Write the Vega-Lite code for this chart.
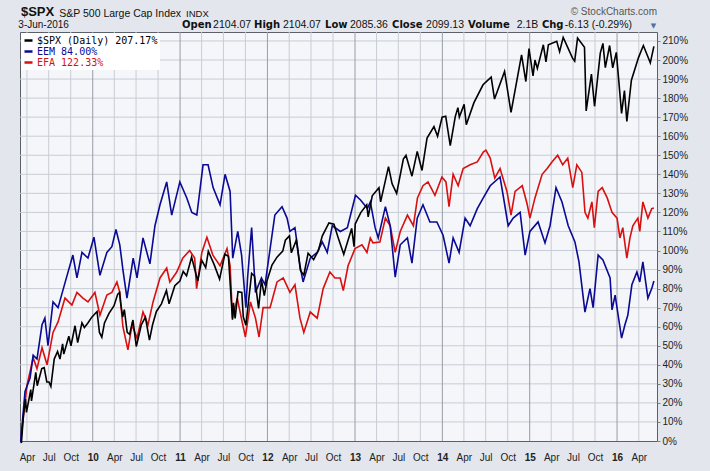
{
"$schema": "https://vega.github.io/schema/vega-lite/v6.json",
"width": 637, "height": 409,
"autosize": {"type": "none"},
"padding": {"left": 20, "top": 32, "right": 53, "bottom": 30},
"background": "#e3e7ed",
"config": {"view": {"fill": "#f5f6fa", "stroke": "#5a5f68", "strokeWidth": 1}, "font": "Liberation Sans"},
"resolve": {"axis": {"x": "independent", "y": "independent"}},
"datasets": {"perf": [
{"d":"2009-03-06","s":"SPX","v":0},{"d":"2009-03-09","s":"SPX","v":-1},{"d":"2009-03-17","s":"SPX","v":13},{"d":"2009-03-26","s":"SPX","v":22},{"d":"2009-03-30","s":"SPX","v":15},{"d":"2009-04-17","s":"SPX","v":27},{"d":"2009-04-20","s":"SPX","v":21},{"d":"2009-05-08","s":"SPX","v":36},{"d":"2009-05-14","s":"SPX","v":29},{"d":"2009-06-02","s":"SPX","v":38},{"d":"2009-06-12","s":"SPX","v":38.5},{"d":"2009-06-23","s":"SPX","v":31},{"d":"2009-07-02","s":"SPX","v":31},{"d":"2009-07-10","s":"SPX","v":28.6},{"d":"2009-07-24","s":"SPX","v":43},{"d":"2009-08-07","s":"SPX","v":47},{"d":"2009-08-17","s":"SPX","v":43},{"d":"2009-08-28","s":"SPX","v":51},{"d":"2009-09-02","s":"SPX","v":45.6},{"d":"2009-09-23","s":"SPX","v":55},{"d":"2009-10-02","s":"SPX","v":50},{"d":"2009-10-19","s":"SPX","v":60.5},{"d":"2009-10-30","s":"SPX","v":51.6},{"d":"2009-11-17","s":"SPX","v":62},{"d":"2009-11-27","s":"SPX","v":59.6},{"d":"2009-12-11","s":"SPX","v":61.8},{"d":"2009-12-28","s":"SPX","v":65},{"d":"2010-01-19","s":"SPX","v":68},{"d":"2010-01-29","s":"SPX","v":57},{"d":"2010-02-08","s":"SPX","v":54.5},{"d":"2010-02-19","s":"SPX","v":62},{"d":"2010-03-10","s":"SPX","v":67},{"d":"2010-03-31","s":"SPX","v":71},{"d":"2010-04-15","s":"SPX","v":77},{"d":"2010-04-23","s":"SPX","v":78},{"d":"2010-04-27","s":"SPX","v":73},{"d":"2010-05-06","s":"SPX","v":65},{"d":"2010-05-13","s":"SPX","v":69},{"d":"2010-05-25","s":"SPX","v":57},{"d":"2010-06-04","s":"SPX","v":56},{"d":"2010-06-18","s":"SPX","v":63.5},{"d":"2010-07-02","s":"SPX","v":49.6},{"d":"2010-07-23","s":"SPX","v":61},{"d":"2010-08-09","s":"SPX","v":65},{"d":"2010-08-26","s":"SPX","v":53},{"d":"2010-09-08","s":"SPX","v":61},{"d":"2010-09-24","s":"SPX","v":68},{"d":"2010-10-15","s":"SPX","v":72},{"d":"2010-11-05","s":"SPX","v":79},{"d":"2010-11-16","s":"SPX","v":72},{"d":"2010-12-10","s":"SPX","v":81.5},{"d":"2010-12-31","s":"SPX","v":84},{"d":"2011-01-14","s":"SPX","v":89},{"d":"2011-01-28","s":"SPX","v":86.7},{"d":"2011-02-18","s":"SPX","v":96.5},{"d":"2011-03-16","s":"SPX","v":84},{"d":"2011-04-01","s":"SPX","v":95},{"d":"2011-04-18","s":"SPX","v":91},{"d":"2011-04-29","s":"SPX","v":99.6},{"d":"2011-05-23","s":"SPX","v":92.7},{"d":"2011-06-15","s":"SPX","v":85},{"d":"2011-07-07","s":"SPX","v":98},{"d":"2011-07-22","s":"SPX","v":97},{"d":"2011-08-08","s":"SPX","v":63.7},{"d":"2011-08-12","s":"SPX","v":72.5},{"d":"2011-08-19","s":"SPX","v":64.3},{"d":"2011-08-31","s":"SPX","v":78.4},{"d":"2011-09-16","s":"SPX","v":78},{"d":"2011-09-22","s":"SPX","v":65.2},{"d":"2011-10-03","s":"SPX","v":60.8},{"d":"2011-10-27","s":"SPX","v":88},{"d":"2011-11-08","s":"SPX","v":86.6},{"d":"2011-11-25","s":"SPX","v":69.6},{"d":"2011-12-07","s":"SPX","v":84.5},{"d":"2011-12-19","s":"SPX","v":76.3},{"d":"2011-12-30","s":"SPX","v":84},{"d":"2012-01-20","s":"SPX","v":92.4},{"d":"2012-02-10","s":"SPX","v":96.5},{"d":"2012-03-05","s":"SPX","v":99.7},{"d":"2012-03-16","s":"SPX","v":105.4},{"d":"2012-04-02","s":"SPX","v":107.7},{"d":"2012-04-10","s":"SPX","v":98.8},{"d":"2012-05-01","s":"SPX","v":105.5},{"d":"2012-05-18","s":"SPX","v":89.5},{"d":"2012-06-01","s":"SPX","v":87},{"d":"2012-06-19","s":"SPX","v":98.6},{"d":"2012-07-12","s":"SPX","v":95.2},{"d":"2012-08-01","s":"SPX","v":100},{"d":"2012-08-17","s":"SPX","v":107.6},{"d":"2012-09-14","s":"SPX","v":114.5},{"d":"2012-10-05","s":"SPX","v":113.8},{"d":"2012-10-23","s":"SPX","v":106.5},{"d":"2012-11-15","s":"SPX","v":98},{"d":"2012-12-18","s":"SPX","v":111.6},{"d":"2012-12-28","s":"SPX","v":102},{"d":"2013-01-02","s":"SPX","v":113.9},{"d":"2013-01-25","s":"SPX","v":119.9},{"d":"2013-02-19","s":"SPX","v":124},{"d":"2013-02-25","s":"SPX","v":117.7},{"d":"2013-03-14","s":"SPX","v":128.7},{"d":"2013-04-11","s":"SPX","v":133},{"d":"2013-04-18","s":"SPX","v":125.5},{"d":"2013-05-21","s":"SPX","v":144},{"d":"2013-06-05","s":"SPX","v":135},{"d":"2013-06-24","s":"SPX","v":130},{"d":"2013-07-22","s":"SPX","v":148},{"d":"2013-08-02","s":"SPX","v":150},{"d":"2013-08-27","s":"SPX","v":139},{"d":"2013-09-18","s":"SPX","v":152},{"d":"2013-10-08","s":"SPX","v":142},{"d":"2013-10-29","s":"SPX","v":159},{"d":"2013-11-27","s":"SPX","v":165},{"d":"2013-12-12","s":"SPX","v":160},{"d":"2013-12-31","s":"SPX","v":170},{"d":"2014-01-15","s":"SPX","v":170.5},{"d":"2014-02-03","s":"SPX","v":155},{"d":"2014-02-24","s":"SPX","v":170.3},{"d":"2014-03-07","s":"SPX","v":175},{"d":"2014-03-13","s":"SPX","v":170},{"d":"2014-04-02","s":"SPX","v":176.7},{"d":"2014-04-11","s":"SPX","v":166},{"d":"2014-05-13","s":"SPX","v":177.6},{"d":"2014-06-20","s":"SPX","v":187},{"d":"2014-07-24","s":"SPX","v":191},{"d":"2014-08-07","s":"SPX","v":179.5},{"d":"2014-09-18","s":"SPX","v":194},{"d":"2014-10-15","s":"SPX","v":172.5},{"d":"2014-11-28","s":"SPX","v":202.7},{"d":"2014-12-16","s":"SPX","v":188.7},{"d":"2014-12-29","s":"SPX","v":206},{"d":"2015-01-15","s":"SPX","v":191.6},{"d":"2015-01-23","s":"SPX","v":200},{"d":"2015-02-02","s":"SPX","v":195.6},{"d":"2015-02-27","s":"SPX","v":208},{"d":"2015-03-10","s":"SPX","v":199},{"d":"2015-03-20","s":"SPX","v":208},{"d":"2015-04-24","s":"SPX","v":209.8},{"d":"2015-05-06","s":"SPX","v":204.4},{"d":"2015-05-21","s":"SPX","v":211.9},{"d":"2015-06-29","s":"SPX","v":201},{"d":"2015-07-08","s":"SPX","v":199.4},{"d":"2015-07-20","s":"SPX","v":211.5},{"d":"2015-08-18","s":"SPX","v":206.7},{"d":"2015-08-25","s":"SPX","v":173.3},{"d":"2015-09-16","s":"SPX","v":192.6},{"d":"2015-09-29","s":"SPX","v":175.7},{"d":"2015-10-23","s":"SPX","v":203.6},{"d":"2015-11-03","s":"SPX","v":208.7},{"d":"2015-11-13","s":"SPX","v":196},{"d":"2015-12-01","s":"SPX","v":207.6},{"d":"2015-12-14","s":"SPX","v":195.9},{"d":"2015-12-29","s":"SPX","v":204},{"d":"2016-01-20","s":"SPX","v":172},{"d":"2016-02-01","s":"SPX","v":184},{"d":"2016-02-11","s":"SPX","v":167.7},{"d":"2016-03-01","s":"SPX","v":189.4},{"d":"2016-03-31","s":"SPX","v":201.4},{"d":"2016-04-20","s":"SPX","v":207.6},{"d":"2016-05-19","s":"SPX","v":198.5},{"d":"2016-06-03","s":"SPX","v":207.17},
{"d":"2009-03-06","s":"EEM","v":0},{"d":"2009-03-24","s":"EEM","v":26},{"d":"2009-04-14","s":"EEM","v":33},{"d":"2009-04-27","s":"EEM","v":45},{"d":"2009-05-13","s":"EEM","v":43},{"d":"2009-06-03","s":"EEM","v":61},{"d":"2009-06-15","s":"EEM","v":64.5},{"d":"2009-06-28","s":"EEM","v":50},{"d":"2009-07-19","s":"EEM","v":73},{"d":"2009-08-09","s":"EEM","v":70},{"d":"2009-09-07","s":"EEM","v":83},{"d":"2009-10-10","s":"EEM","v":97.6},{"d":"2009-10-27","s":"EEM","v":85.6},{"d":"2009-11-17","s":"EEM","v":99},{"d":"2009-12-12","s":"EEM","v":96},{"d":"2010-01-06","s":"EEM","v":107},{"d":"2010-01-31","s":"EEM","v":87},{"d":"2010-03-01","s":"EEM","v":99},{"d":"2010-03-22","s":"EEM","v":102},{"d":"2010-04-08","s":"EEM","v":111},{"d":"2010-04-24","s":"EEM","v":103},{"d":"2010-05-07","s":"EEM","v":90},{"d":"2010-05-24","s":"EEM","v":75},{"d":"2010-06-19","s":"EEM","v":96},{"d":"2010-07-05","s":"EEM","v":85.6},{"d":"2010-07-30","s":"EEM","v":106.6},{"d":"2010-08-28","s":"EEM","v":93},{"d":"2010-09-18","s":"EEM","v":113},{"d":"2010-10-09","s":"EEM","v":124},{"d":"2010-11-06","s":"EEM","v":136},{"d":"2010-11-27","s":"EEM","v":118.6},{"d":"2010-12-31","s":"EEM","v":136},{"d":"2011-01-29","s":"EEM","v":127.6},{"d":"2011-02-19","s":"EEM","v":120},{"d":"2011-03-12","s":"EEM","v":118.6},{"d":"2011-04-07","s":"EEM","v":145},{"d":"2011-04-28","s":"EEM","v":145},{"d":"2011-05-19","s":"EEM","v":133},{"d":"2011-06-17","s":"EEM","v":124},{"d":"2011-07-08","s":"EEM","v":140},{"d":"2011-07-29","s":"EEM","v":131},{"d":"2011-08-09","s":"EEM","v":96},{"d":"2011-08-30","s":"EEM","v":110},{"d":"2011-09-15","s":"EEM","v":97.6},{"d":"2011-10-03","s":"EEM","v":70},{"d":"2011-10-10","s":"EEM","v":85.6},{"d":"2011-10-27","s":"EEM","v":112},{"d":"2011-11-12","s":"EEM","v":78},{"d":"2011-12-07","s":"EEM","v":85.6},{"d":"2011-12-22","s":"EEM","v":82},{"d":"2012-02-01","s":"EEM","v":118.6},{"d":"2012-03-02","s":"EEM","v":123},{"d":"2012-03-23","s":"EEM","v":117},{"d":"2012-04-04","s":"EEM","v":110},{"d":"2012-04-25","s":"EEM","v":112},{"d":"2012-05-16","s":"EEM","v":92},{"d":"2012-05-29","s":"EEM","v":83.5},{"d":"2012-06-28","s":"EEM","v":96},{"d":"2012-07-27","s":"EEM","v":99},{"d":"2012-08-17","s":"EEM","v":104.5},{"d":"2012-09-07","s":"EEM","v":99},{"d":"2012-09-28","s":"EEM","v":113},{"d":"2012-11-01","s":"EEM","v":110},{"d":"2012-11-30","s":"EEM","v":112},{"d":"2013-01-03","s":"EEM","v":129},{"d":"2013-01-24","s":"EEM","v":126.5},{"d":"2013-02-22","s":"EEM","v":122},{"d":"2013-03-06","s":"EEM","v":125.5},{"d":"2013-03-26","s":"EEM","v":112},{"d":"2013-04-08","s":"EEM","v":106.6},{"d":"2013-05-08","s":"EEM","v":123},{"d":"2013-05-28","s":"EEM","v":113},{"d":"2013-06-18","s":"EEM","v":86},{"d":"2013-07-09","s":"EEM","v":103},{"d":"2013-08-08","s":"EEM","v":106.6},{"d":"2013-08-27","s":"EEM","v":93.4},{"d":"2013-09-18","s":"EEM","v":117},{"d":"2013-10-12","s":"EEM","v":124},{"d":"2013-11-10","s":"EEM","v":115},{"d":"2013-12-09","s":"EEM","v":115},{"d":"2014-01-04","s":"EEM","v":108},{"d":"2014-01-29","s":"EEM","v":93.4},{"d":"2014-02-15","s":"EEM","v":106.6},{"d":"2014-03-12","s":"EEM","v":99},{"d":"2014-04-06","s":"EEM","v":117},{"d":"2014-04-27","s":"EEM","v":113},{"d":"2014-05-27","s":"EEM","v":122},{"d":"2014-06-21","s":"EEM","v":127.6},{"d":"2014-07-20","s":"EEM","v":134},{"d":"2014-08-30","s":"EEM","v":138.6},{"d":"2014-09-12","s":"EEM","v":129},{"d":"2014-10-03","s":"EEM","v":113},{"d":"2014-10-24","s":"EEM","v":117},{"d":"2014-11-22","s":"EEM","v":120},{"d":"2014-12-13","s":"EEM","v":97.6},{"d":"2015-01-02","s":"EEM","v":110},{"d":"2015-02-05","s":"EEM","v":115},{"d":"2015-03-06","s":"EEM","v":104},{"d":"2015-03-27","s":"EEM","v":113},{"d":"2015-04-21","s":"EEM","v":133},{"d":"2015-05-16","s":"EEM","v":125.5},{"d":"2015-06-11","s":"EEM","v":113},{"d":"2015-07-09","s":"EEM","v":104.5},{"d":"2015-07-26","s":"EEM","v":94},{"d":"2015-08-20","s":"EEM","v":67.7},{"d":"2015-09-10","s":"EEM","v":80},{"d":"2015-09-23","s":"EEM","v":70},{"d":"2015-10-14","s":"EEM","v":97.6},{"d":"2015-11-03","s":"EEM","v":95},{"d":"2015-12-03","s":"EEM","v":85.6},{"d":"2015-12-11","s":"EEM","v":68.8},{"d":"2015-12-24","s":"EEM","v":76.6},{"d":"2016-01-20","s":"EEM","v":54},{"d":"2016-02-03","s":"EEM","v":61},{"d":"2016-02-15","s":"EEM","v":66},{"d":"2016-03-03","s":"EEM","v":82},{"d":"2016-03-24","s":"EEM","v":88.7},{"d":"2016-04-05","s":"EEM","v":83.5},{"d":"2016-04-18","s":"EEM","v":94},{"d":"2016-05-09","s":"EEM","v":75},{"d":"2016-05-25","s":"EEM","v":80},{"d":"2016-06-03","s":"EEM","v":84},
{"d":"2009-03-06","s":"EFA","v":0},{"d":"2009-04-01","s":"EFA","v":29},{"d":"2009-04-27","s":"EFA","v":43.6},{"d":"2009-05-13","s":"EFA","v":38},{"d":"2009-06-03","s":"EFA","v":49},{"d":"2009-06-24","s":"EFA","v":40},{"d":"2009-07-19","s":"EFA","v":57},{"d":"2009-08-09","s":"EFA","v":62.5},{"d":"2009-09-07","s":"EFA","v":75},{"d":"2009-10-06","s":"EFA","v":71.4},{"d":"2009-10-27","s":"EFA","v":78},{"d":"2009-11-21","s":"EFA","v":75},{"d":"2009-12-12","s":"EFA","v":73},{"d":"2010-01-10","s":"EFA","v":78},{"d":"2010-01-31","s":"EFA","v":66},{"d":"2010-03-01","s":"EFA","v":76.6},{"d":"2010-03-22","s":"EFA","v":78},{"d":"2010-04-12","s":"EFA","v":83.5},{"d":"2010-04-24","s":"EFA","v":78},{"d":"2010-05-07","s":"EFA","v":60},{"d":"2010-05-28","s":"EFA","v":47.8},{"d":"2010-06-14","s":"EFA","v":61},{"d":"2010-07-05","s":"EFA","v":54},{"d":"2010-07-30","s":"EFA","v":67.7},{"d":"2010-08-20","s":"EFA","v":61},{"d":"2010-09-10","s":"EFA","v":73},{"d":"2010-10-09","s":"EFA","v":85.6},{"d":"2010-11-06","s":"EFA","v":90.8},{"d":"2010-11-19","s":"EFA","v":83.5},{"d":"2010-12-18","s":"EFA","v":88.7},{"d":"2011-01-12","s":"EFA","v":96},{"d":"2011-02-10","s":"EFA","v":100},{"d":"2011-03-03","s":"EFA","v":96},{"d":"2011-03-11","s":"EFA","v":80},{"d":"2011-04-02","s":"EFA","v":99},{"d":"2011-04-23","s":"EFA","v":107},{"d":"2011-05-18","s":"EFA","v":97.6},{"d":"2011-06-17","s":"EFA","v":92},{"d":"2011-07-16","s":"EFA","v":101},{"d":"2011-07-29","s":"EFA","v":92},{"d":"2011-08-08","s":"EFA","v":64.5},{"d":"2011-08-28","s":"EFA","v":75},{"d":"2011-09-14","s":"EFA","v":64.5},{"d":"2011-10-01","s":"EFA","v":54.6},{"d":"2011-10-22","s":"EFA","v":73},{"d":"2011-11-12","s":"EFA","v":64.5},{"d":"2011-11-27","s":"EFA","v":54.6},{"d":"2011-12-14","s":"EFA","v":70},{"d":"2012-01-12","s":"EFA","v":70},{"d":"2012-02-10","s":"EFA","v":83.5},{"d":"2012-03-07","s":"EFA","v":85.6},{"d":"2012-04-04","s":"EFA","v":78},{"d":"2012-04-25","s":"EFA","v":82},{"d":"2012-05-16","s":"EFA","v":64.5},{"d":"2012-06-01","s":"EFA","v":57},{"d":"2012-06-28","s":"EFA","v":67.7},{"d":"2012-07-27","s":"EFA","v":64.5},{"d":"2012-08-21","s":"EFA","v":80},{"d":"2012-09-18","s":"EFA","v":88.7},{"d":"2012-10-09","s":"EFA","v":85.6},{"d":"2012-10-31","s":"EFA","v":85.6},{"d":"2012-11-13","s":"EFA","v":79},{"d":"2012-12-03","s":"EFA","v":92},{"d":"2013-01-01","s":"EFA","v":101},{"d":"2013-01-30","s":"EFA","v":103},{"d":"2013-02-20","s":"EFA","v":99},{"d":"2013-03-06","s":"EFA","v":106.6},{"d":"2013-03-17","s":"EFA","v":104},{"d":"2013-04-15","s":"EFA","v":104.5},{"d":"2013-05-08","s":"EFA","v":117},{"d":"2013-05-28","s":"EFA","v":113},{"d":"2013-06-18","s":"EFA","v":99},{"d":"2013-07-09","s":"EFA","v":110},{"d":"2013-08-08","s":"EFA","v":118.6},{"d":"2013-09-02","s":"EFA","v":113},{"d":"2013-09-19","s":"EFA","v":127.6},{"d":"2013-10-12","s":"EFA","v":134},{"d":"2013-11-02","s":"EFA","v":136},{"d":"2013-12-01","s":"EFA","v":129},{"d":"2013-12-30","s":"EFA","v":138.6},{"d":"2014-01-16","s":"EFA","v":136},{"d":"2014-01-29","s":"EFA","v":123},{"d":"2014-02-15","s":"EFA","v":140},{"d":"2014-03-08","s":"EFA","v":134},{"d":"2014-03-29","s":"EFA","v":143},{"d":"2014-04-27","s":"EFA","v":145},{"d":"2014-05-27","s":"EFA","v":146.5},{"d":"2014-06-21","s":"EFA","v":151.7},{"d":"2014-07-02","s":"EFA","v":152.7},{"d":"2014-07-20","s":"EFA","v":148.5},{"d":"2014-08-08","s":"EFA","v":138},{"d":"2014-08-30","s":"EFA","v":143},{"d":"2014-09-28","s":"EFA","v":131},{"d":"2014-10-15","s":"EFA","v":118.6},{"d":"2014-11-01","s":"EFA","v":131},{"d":"2014-12-01","s":"EFA","v":134},{"d":"2014-12-22","s":"EFA","v":124},{"d":"2015-01-02","s":"EFA","v":117},{"d":"2015-01-23","s":"EFA","v":127.6},{"d":"2015-02-22","s":"EFA","v":140},{"d":"2015-03-15","s":"EFA","v":143},{"d":"2015-04-04","s":"EFA","v":146.5},{"d":"2015-04-28","s":"EFA","v":150},{"d":"2015-05-19","s":"EFA","v":145},{"d":"2015-06-09","s":"EFA","v":148.5},{"d":"2015-06-30","s":"EFA","v":133},{"d":"2015-07-17","s":"EFA","v":145},{"d":"2015-08-07","s":"EFA","v":141},{"d":"2015-08-20","s":"EFA","v":120},{"d":"2015-09-01","s":"EFA","v":117},{"d":"2015-09-18","s":"EFA","v":125.5},{"d":"2015-09-28","s":"EFA","v":112},{"d":"2015-10-14","s":"EFA","v":131},{"d":"2015-10-31","s":"EFA","v":133},{"d":"2015-11-21","s":"EFA","v":127.6},{"d":"2015-12-11","s":"EFA","v":120},{"d":"2016-01-01","s":"EFA","v":117},{"d":"2016-01-13","s":"EFA","v":106.6},{"d":"2016-01-25","s":"EFA","v":112},{"d":"2016-02-11","s":"EFA","v":96},{"d":"2016-02-24","s":"EFA","v":106.6},{"d":"2016-03-07","s":"EFA","v":113},{"d":"2016-03-28","s":"EFA","v":117},{"d":"2016-04-05","s":"EFA","v":110},{"d":"2016-04-18","s":"EFA","v":125.5},{"d":"2016-05-09","s":"EFA","v":117},{"d":"2016-05-25","s":"EFA","v":122},{"d":"2016-06-03","s":"EFA","v":122.33}
],
"hgrid": [{"g":10},{"g":20},{"g":30},{"g":40},{"g":50},{"g":60},{"g":70},{"g":80},{"g":90},{"g":100},{"g":110},{"g":120},{"g":130},{"g":140},{"g":150},{"g":160},{"g":170},{"g":180},{"g":190},{"g":200},{"g":210}],
"qgrid": [{"q":"2009-04-01"},{"q":"2009-07-01"},{"q":"2009-10-01"},{"q":"2010-04-01"},{"q":"2010-07-01"},{"q":"2010-10-01"},{"q":"2011-04-01"},{"q":"2011-07-01"},{"q":"2011-10-01"},{"q":"2012-04-01"},{"q":"2012-07-01"},{"q":"2012-10-01"},{"q":"2013-04-01"},{"q":"2013-07-01"},{"q":"2013-10-01"},{"q":"2014-04-01"},{"q":"2014-07-01"},{"q":"2014-10-01"},{"q":"2015-04-01"},{"q":"2015-07-01"},{"q":"2015-10-01"},{"q":"2016-04-01"}],
"ygrid": [{"q":"2010-01-01"},{"q":"2011-01-01"},{"q":"2012-01-01"},{"q":"2013-01-01"},{"q":"2014-01-01"},{"q":"2015-01-01"},{"q":"2016-01-01"}]
},
"layer": [
{"data": {"name": "hgrid"}, "mark": {"type": "rule", "color": "#c8ccd4", "strokeWidth": 1},
 "encoding": {"y": {"field": "g", "type": "quantitative", "axis": null}}},
{"data": {"name": "qgrid"}, "mark": {"type": "rule", "color": "#c8ccd4", "strokeWidth": 1},
 "encoding": {"x": {"field": "q", "type": "temporal", "axis": null}}},
{"data": {"name": "ygrid"}, "mark": {"type": "rule", "color": "#979ca6", "strokeWidth": 1},
 "encoding": {"x": {"field": "q", "type": "temporal", "axis": null}}},
{
"data": {"name": "perf"},
"encoding": {
"x": {"field": "d", "type": "temporal", "title": null,
 "scale": {"domain": [{"year": 2009, "month": 3, "date": 3}, {"year": 2016, "month": 6, "date": 16}]},
 "axis": {"title": null, "grid": false, "domain": false, "ticks": false, "labelPadding": 11, "labelFont": "Liberation Sans", "labelFontSize": 10, "labelColor": "#222222", "labelOverlap": false, "labelFlush": false,
  "values": [{"year":2009,"month":4,"date":1},{"year":2009,"month":7,"date":1},{"year":2009,"month":10,"date":1},{"year":2010,"month":1,"date":1},{"year":2010,"month":4,"date":1},{"year":2010,"month":7,"date":1},{"year":2010,"month":10,"date":1},{"year":2011,"month":1,"date":1},{"year":2011,"month":4,"date":1},{"year":2011,"month":7,"date":1},{"year":2011,"month":10,"date":1},{"year":2012,"month":1,"date":1},{"year":2012,"month":4,"date":1},{"year":2012,"month":7,"date":1},{"year":2012,"month":10,"date":1},{"year":2013,"month":1,"date":1},{"year":2013,"month":4,"date":1},{"year":2013,"month":7,"date":1},{"year":2013,"month":10,"date":1},{"year":2014,"month":1,"date":1},{"year":2014,"month":4,"date":1},{"year":2014,"month":7,"date":1},{"year":2014,"month":10,"date":1},{"year":2015,"month":1,"date":1},{"year":2015,"month":4,"date":1},{"year":2015,"month":7,"date":1},{"year":2015,"month":10,"date":1},{"year":2016,"month":1,"date":1},{"year":2016,"month":4,"date":1}],
  "labelExpr": "month(datum.value) == 0 ? timeFormat(datum.value, '%y') : timeFormat(datum.value, '%b')",
  "labelFontWeight": {"condition": {"test": "month(datum.value) == 0", "value": "bold"}, "value": "normal"}}},
"y": {"field": "v", "type": "quantitative", "title": null,
 "scale": {"domain": [0, 214.7], "nice": false, "zero": false},
 "axis": {"title": null, "orient": "right", "values": [0,10,20,30,40,50,60,70,80,90,100,110,120,130,140,150,160,170,180,190,200,210], "labelExpr": "datum.value + '%'", "labelOverlap": false, "grid": false, "domain": false, "tickSize": 3, "tickColor": "#7a7f88", "labelPadding": 2, "labelFont": "Liberation Sans", "labelFontSize": 10, "labelColor": "#222222"}},
"color": {"field": "s", "type": "nominal",
 "scale": {"domain": ["SPX", "EEM", "EFA"], "range": ["#000000", "#0a0a94", "#d81010"]},
 "legend": {"title": null, "orient": "top-left", "offset": 1, "fillColor": "#ffffff", "padding": 2, "symbolType": "stroke", "symbolSize": 64, "symbolStrokeWidth": 2.5, "labelFont": "DejaVu Sans Mono", "labelFontSize": 10, "rowPadding": -2, "labelOffset": 3,
  "labelExpr": "datum.label == 'SPX' ? '$SPX (Daily) 207.17%\u00a0\u00a0\u00a0\u00a0' : datum.label == 'EEM' ? 'EEM 84.00%' : 'EFA 122.33%'",
  "encode": {"labels": {"update": {"fill": {"scale": "color", "field": "value"}}}}}}
},
"layer": [
{"transform": [{"filter": "datum.s == 'EFA'"}], "mark": {"type": "line", "strokeWidth": 1.6}},
{"transform": [{"filter": "datum.s == 'EEM'"}], "mark": {"type": "line", "strokeWidth": 1.6}},
{"transform": [{"filter": "datum.s == 'SPX'"}], "mark": {"type": "line", "strokeWidth": 1.6}}
]
},
{"data": {"values": [{}]}, "mark": {"type": "text", "text": "$SPX", "align": "left", "baseline": "alphabetic", "font": "Liberation Sans", "fontWeight": "bold", "fontSize": 13, "color": "#111111"},
 "encoding": {"x": {"datum": {"year": 2009, "month": 3, "date": 7}, "type": "temporal", "axis": null}, "y": {"datum": 223.0, "type": "quantitative", "axis": null}}},
{"data": {"values": [{}]}, "mark": {"type": "text", "text": "S&P 500 Large Cap Index", "align": "left", "baseline": "alphabetic", "font": "Liberation Sans", "fontSize": 10.5, "color": "#111111"},
 "encoding": {"x": {"datum": {"year": 2009, "month": 8, "date": 14}, "type": "temporal", "axis": null}, "y": {"datum": 222.6, "type": "quantitative", "axis": null}}},
{"data": {"values": [{}]}, "mark": {"type": "text", "text": "INDX", "align": "left", "baseline": "alphabetic", "font": "Liberation Sans", "fontSize": 9.5, "color": "#111111"},
 "encoding": {"x": {"datum": {"year": 2011, "month": 1, "date": 26}, "type": "temporal", "axis": null}, "y": {"datum": 222.6, "type": "quantitative", "axis": null}}},
{"data": {"values": [{}]}, "mark": {"type": "text", "text": "3-Jun-2016", "align": "left", "baseline": "alphabetic", "font": "Liberation Sans", "fontSize": 10, "color": "#111111"},
 "encoding": {"x": {"datum": {"year": 2009, "month": 2, "date": 24}, "type": "temporal", "axis": null}, "y": {"datum": 216.6, "type": "quantitative", "axis": null}}},
{"data": {"values": [{}]}, "mark": {"type": "text", "text": "Open", "align": "left", "baseline": "alphabetic", "font": "DejaVu Sans", "fontWeight": "bold", "fontSize": 10, "color": "#111111"},
 "encoding": {"x": {"datum": {"year": 2011, "month": 1, "date": 9}, "type": "temporal", "axis": null}, "y": {"datum": 216.6, "type": "quantitative", "axis": null}}},
{"data": {"values": [{}]}, "mark": {"type": "text", "text": "2104.07", "align": "left", "baseline": "alphabetic", "font": "Liberation Sans", "fontSize": 10.5, "color": "#111111"},
 "encoding": {"x": {"datum": {"year": 2011, "month": 5, "date": 19}, "type": "temporal", "axis": null}, "y": {"datum": 216.6, "type": "quantitative", "axis": null}}},
{"data": {"values": [{}]}, "mark": {"type": "text", "text": "High", "align": "left", "baseline": "alphabetic", "font": "DejaVu Sans", "fontWeight": "bold", "fontSize": 10, "color": "#111111"},
 "encoding": {"x": {"datum": {"year": 2011, "month": 11, "date": 6}, "type": "temporal", "axis": null}, "y": {"datum": 216.6, "type": "quantitative", "axis": null}}},
{"data": {"values": [{}]}, "mark": {"type": "text", "text": "2104.07", "align": "left", "baseline": "alphabetic", "font": "Liberation Sans", "fontSize": 10.5, "color": "#111111"},
 "encoding": {"x": {"datum": {"year": 2012, "month": 3, "date": 6}, "type": "temporal", "axis": null}, "y": {"datum": 216.6, "type": "quantitative", "axis": null}}},
{"data": {"values": [{}]}, "mark": {"type": "text", "text": "Low", "align": "left", "baseline": "alphabetic", "font": "DejaVu Sans", "fontWeight": "bold", "fontSize": 10, "color": "#111111"},
 "encoding": {"x": {"datum": {"year": 2012, "month": 8, "date": 29}, "type": "temporal", "axis": null}, "y": {"datum": 216.6, "type": "quantitative", "axis": null}}},
{"data": {"values": [{}]}, "mark": {"type": "text", "text": "2085.36", "align": "left", "baseline": "alphabetic", "font": "Liberation Sans", "fontSize": 10.5, "color": "#111111"},
 "encoding": {"x": {"datum": {"year": 2012, "month": 12, "date": 11}, "type": "temporal", "axis": null}, "y": {"datum": 216.6, "type": "quantitative", "axis": null}}},
{"data": {"values": [{}]}, "mark": {"type": "text", "text": "Close", "align": "left", "baseline": "alphabetic", "font": "DejaVu Sans", "fontWeight": "bold", "fontSize": 10, "color": "#111111"},
 "encoding": {"x": {"datum": {"year": 2013, "month": 6, "date": 5}, "type": "temporal", "axis": null}, "y": {"datum": 216.6, "type": "quantitative", "axis": null}}},
{"data": {"values": [{}]}, "mark": {"type": "text", "text": "2099.13", "align": "left", "baseline": "alphabetic", "font": "Liberation Sans", "fontSize": 10.5, "color": "#111111"},
 "encoding": {"x": {"datum": {"year": 2013, "month": 10, "date": 25}, "type": "temporal", "axis": null}, "y": {"datum": 216.6, "type": "quantitative", "axis": null}}},
{"data": {"values": [{}]}, "mark": {"type": "text", "text": "Volume", "align": "left", "baseline": "alphabetic", "font": "DejaVu Sans", "fontWeight": "bold", "fontSize": 10, "color": "#111111"},
 "encoding": {"x": {"datum": {"year": 2014, "month": 4, "date": 18}, "type": "temporal", "axis": null}, "y": {"datum": 216.6, "type": "quantitative", "axis": null}}},
{"data": {"values": [{}]}, "mark": {"type": "text", "text": "2.1B", "align": "left", "baseline": "alphabetic", "font": "Liberation Sans", "fontSize": 10.5, "color": "#111111"},
 "encoding": {"x": {"datum": {"year": 2014, "month": 11, "date": 8}, "type": "temporal", "axis": null}, "y": {"datum": 216.6, "type": "quantitative", "axis": null}}},
{"data": {"values": [{}]}, "mark": {"type": "text", "text": "Chg", "align": "left", "baseline": "alphabetic", "font": "DejaVu Sans", "fontWeight": "bold", "fontSize": 10, "color": "#111111"},
 "encoding": {"x": {"datum": {"year": 2015, "month": 2, "date": 21}, "type": "temporal", "axis": null}, "y": {"datum": 216.6, "type": "quantitative", "axis": null}}},
{"data": {"values": [{}]}, "mark": {"type": "text", "text": "-6.13 (-0.29%)", "align": "left", "baseline": "alphabetic", "font": "Liberation Sans", "fontSize": 10.5, "color": "#111111"},
 "encoding": {"x": {"datum": {"year": 2015, "month": 5, "date": 28}, "type": "temporal", "axis": null}, "y": {"datum": 216.6, "type": "quantitative", "axis": null}}},
{"data": {"values": [{}]}, "mark": {"type": "text", "text": "▼", "align": "left", "baseline": "alphabetic", "font": "DejaVu Sans", "fontSize": 7, "color": "#4d6fa3"},
 "encoding": {"x": {"datum": {"year": 2016, "month": 5, "date": 21}, "type": "temporal", "axis": null}, "y": {"datum": 216.6, "type": "quantitative", "axis": null}}},
{"data": {"values": [{}]}, "mark": {"type": "text", "text": "© StockCharts.com", "align": "right", "baseline": "alphabetic", "font": "Liberation Sans", "fontSize": 10, "color": "#555555"},
 "encoding": {"x": {"datum": {"year": 2016, "month": 6, "date": 16}, "type": "temporal", "axis": null}, "y": {"datum": 223.6, "type": "quantitative", "axis": null}}}
]
}
